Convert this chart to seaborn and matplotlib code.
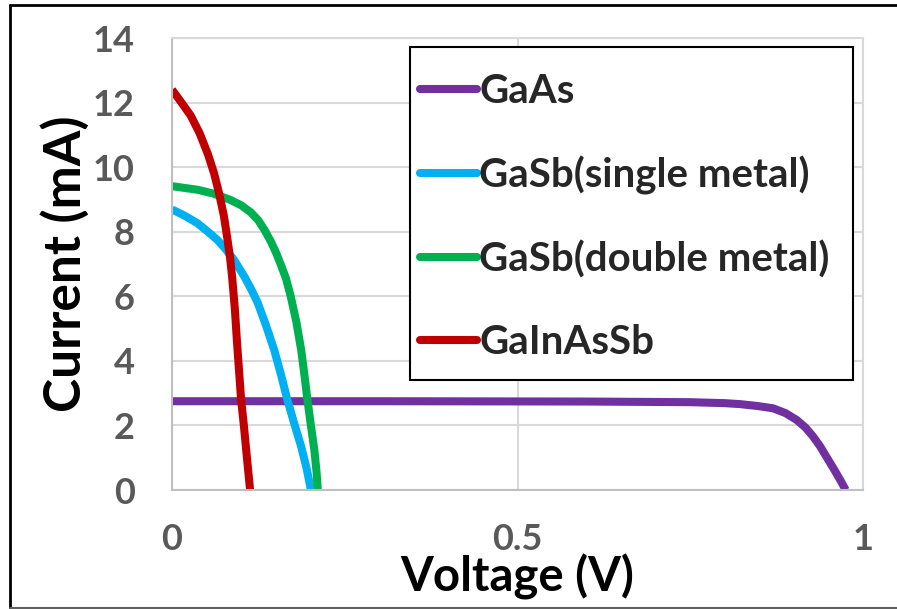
import numpy as np
import pandas as pd
import matplotlib
matplotlib.use('Agg')
import matplotlib.pyplot as plt
from matplotlib.lines import Line2D
from matplotlib.patches import Rectangle
import seaborn as sns

# I-V curves
gaas_v = [0.0, 0.3, 0.6, 0.75, 0.8, 0.822, 0.848, 0.87, 0.888, 0.904, 0.917,
          0.928, 0.938, 0.947, 0.957, 0.967, 0.975]
gaas_i = [2.75, 2.75, 2.74, 2.72, 2.69, 2.66, 2.6, 2.53, 2.38, 2.17, 1.93,
          1.65, 1.35, 1.03, 0.68, 0.31, 0.0]

gasb_single_v = [0.0, 0.018, 0.037, 0.052, 0.066, 0.078, 0.090, 0.105, 0.115,
                 0.124, 0.136, 0.148, 0.158, 0.167, 0.177, 0.187, 0.195, 0.201]
gasb_single_i = [8.69, 8.5, 8.26, 8.0, 7.74, 7.45, 7.12, 6.6, 6.2,
                 5.8, 5.1, 4.33, 3.55, 2.79, 2.05, 1.34, 0.65, 0.0]

gasb_double_v = [0.0, 0.037, 0.06, 0.085, 0.1, 0.114, 0.125, 0.134, 0.143, 0.151,
                 0.158, 0.165, 0.172, 0.18, 0.187, 0.192, 0.196, 0.201, 0.206,
                 0.209, 0.211]
gasb_double_i = [9.41, 9.3, 9.18, 8.98, 8.82, 8.6, 8.35, 8.05, 7.7, 7.33,
                 6.95, 6.55, 5.98, 5.2, 4.33, 3.5, 2.79, 2.0, 1.24,
                 0.6, 0.0]

gainassb_v = [0.0, 0.012, 0.027, 0.040, 0.052, 0.061, 0.068, 0.075, 0.080, 0.084,
              0.087, 0.091, 0.094, 0.097, 0.100, 0.104, 0.108, 0.113]
gainassb_i = [12.4, 12.05, 11.6, 11.05, 10.4, 9.8, 9.2, 8.5, 7.8, 7.2,
              6.6, 5.6, 4.6, 3.7, 2.8, 2.0, 1.1, 0.0]

labels = ["GaAs", "GaSb(single metal)", "GaSb(double metal)", "GaInAsSb"]
colors = ["#7030A0", "#00B0F0", "#00B050", "#C00000"]
series = [(gaas_v, gaas_i), (gasb_single_v, gasb_single_i),
          (gasb_double_v, gasb_double_i), (gainassb_v, gainassb_i)]

x_ticks = [0, 0.5, 1]
x_tick_labels = ["0", "0.5", "1"]
y_ticks = [0, 2, 4, 6, 8, 10, 12, 14]

sns.set_theme(style="white")
plt.rcParams['font.family'] = ['Lato', 'DejaVu Sans']
plt.rcParams['font.weight'] = 'bold'

W, H = 897, 609
fig = plt.figure(figsize=(W / 100, H / 100), dpi=100)
ax = fig.add_axes([172 / W, 1 - 490 / H, (863 - 172) / W, (490 - 38) / H])

for (v, i), lab, col in zip(series, labels, colors):
    df = pd.DataFrame({"Voltage": v, "Current": i})
    sns.lineplot(data=df, x="Voltage", y="Current", ax=ax, color=col, lw=5.8,
                 sort=False, estimator=None, legend=False,
                 solid_capstyle='butt', solid_joinstyle='round')

ax.set_xlim(0, 1)
ax.set_ylim(0, 14)
ax.set_xticks(x_ticks)
ax.set_xticklabels(x_tick_labels)
ax.set_yticks(y_ticks)
ax.grid(True, color="#d9d9d9", lw=1.5)
ax.set_axisbelow(True)
for side in ["top", "right"]:
    ax.spines[side].set_color("#d9d9d9")
    ax.spines[side].set_linewidth(1.5)
for side in ["left", "bottom"]:
    ax.spines[side].set_color("#bfbfbf")
    ax.spines[side].set_linewidth(1.5)

ax.tick_params(axis='y', length=0, labelsize=26, labelcolor="#595959", pad=27)
ax.tick_params(axis='x', length=0, labelsize=26, labelcolor="#595959", pad=24)
for t in ax.get_xticklabels() + ax.get_yticklabels():
    t.set_fontweight('bold')

ax.set_xlabel("Voltage (V)", fontsize=34, fontweight='bold', color='black', labelpad=-2)
ax.set_ylabel("Current (mA)", fontsize=37, fontweight='bold', color='black', labelpad=2)

# legend box drawn separately so its padding can match the reference
box = Rectangle((410 / W, 1 - 380 / H), (853 - 410) / W, (380 - 47) / H,
                transform=fig.transFigure, facecolor='white', edgecolor='black',
                lw=1.5, zorder=4.5)
ax.add_patch(box)
box.set_clip_on(False)

handles = [Line2D([0], [0], color=c, lw=5.8, solid_capstyle='round') for c in colors]
leg = ax.legend(handles, labels, loc='upper left', bbox_to_anchor=(420 / W, 1 - 73 / H),
                bbox_transform=fig.transFigure, borderaxespad=0, frameon=False,
                prop={'size': 29, 'weight': 'bold'}, handlelength=1.42,
                handletextpad=0.05, labelspacing=1.13, borderpad=0)
leg.set_zorder(5)

# outer frame of the figure
fig.add_artist(Line2D([10 / W, 1], [1 - 5 / H, 1 - 5 / H], transform=fig.transFigure, color='black', lw=2))
fig.add_artist(Line2D([10 / W, 10 / W], [1 / H, 1 - 5 / H], transform=fig.transFigure, color='black', lw=2))
fig.add_artist(Line2D([10 / W, 1], [1 / H, 1 / H], transform=fig.transFigure, color='#606060', lw=1.5))

fig.savefig("out.png", dpi=100)
